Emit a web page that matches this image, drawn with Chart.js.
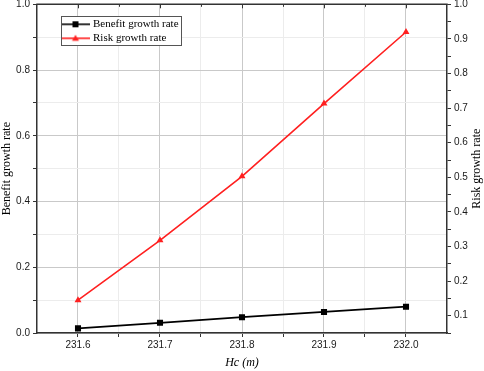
<!DOCTYPE html>
<html>
<head>
<meta charset="utf-8">
<script src="https://cdn.jsdelivr.net/npm/chart.js@4/dist/chart.umd.min.js"></script>
<style>
  html, body { margin: 0; padding: 0; background: #fff; }
  #wrap { width: 484px; height: 371px; }
</style>
</head>
<body>
<div id="wrap"><canvas id="chart-growth" width="484" height="371"></canvas></div>
<script>
// values
const hcValues = [231.6, 231.7, 231.8, 231.9, 232.0];
const benefitRate = [0.014, 0.031, 0.048, 0.064, 0.080];
const riskRate = [0.145, 0.318, 0.503, 0.713, 0.920];

const xTickLabels = ['231.6', '231.7', '231.8', '231.9', '232.0'];
const leftTickLabels = ['0.0', '0.2', '0.4', '0.6', '0.8', '1.0'];
const rightTickLabels = ['0.1', '0.2', '0.3', '0.4', '0.5', '0.6', '0.7', '0.8', '0.9', '1.0'];

const serif = 'Liberation Serif, Times New Roman, serif';
const sans = 'Liberation Sans, Arial, sans-serif';
const axisColor = '#333';

// major ticks from the labels, minor ticks halfway between them
function tickList(labels, withLeadingMinor) {
    const major = labels.map(t => parseFloat(t));
    const step = major[1] - major[0];
    const out = major.map((v, i) => ({ value: v, major: true, text: labels[i] }));
    major.forEach((v, i) => {
        if (i > 0) out.push({ value: v - step / 2, major: false, text: '' });
    });
    if (withLeadingMinor) out.push({ value: major[0] - step / 2, major: false, text: '' });
    return out.sort((a, b) => a.value - b.value);
}

function legendIcon(color, shape) {
    const c = document.createElement('canvas');
    c.width = 28; c.height = 10;
    const g = c.getContext('2d');
    g.strokeStyle = color; g.fillStyle = color; g.lineWidth = 1.6;
    g.beginPath(); g.moveTo(0, 5); g.lineTo(28, 5); g.stroke();
    if (shape === 'rect') {
        g.fillRect(11, 2, 6, 6);
    } else {
        g.beginPath(); g.moveTo(14, 1.5); g.lineTo(17.5, 7.5); g.lineTo(10.5, 7.5); g.closePath(); g.fill();
    }
    return c;
}
const legendIcons = [legendIcon('#000', 'rect'), legendIcon('#ff2020', 'triangle')];

const gridColor = c => (c.tick && c.tick.major ? '#c9c9c9' : '#ececec');
const tickText = (v, i, ticks) => ticks[i].text;

const extras = {
    id: 'extras',
    afterLayout(chart) {
        const lg = chart.legend, a = chart.chartArea;
        const w = lg.width, h = lg.height;
        lg.left = a.left + 23.5;
        lg.top = a.top + 11.5;
        lg.right = lg.left + w;
        lg.bottom = lg.top + h;
    },
    afterDatasetsDraw(chart) {
        const ctx = chart.ctx, lg = chart.legend;
        ctx.save();
        ctx.font = '11px ' + serif;
        const tw = Math.max(...chart.data.datasets.map(d => ctx.measureText(d.label).width));
        const x0 = Math.round(lg.left) + 0.5, y0 = Math.round(lg.top) + 0.5;
        const w = Math.round(3 + 24 + 5.5 + tw + 2), h = 29;
        ctx.fillStyle = '#fff';
        ctx.fillRect(x0, y0, w, h);
        ctx.strokeStyle = '#555';
        ctx.lineWidth = 1;
        ctx.strokeRect(x0, y0, w, h);
        ctx.restore();
        lg.draw();
    },
    afterDraw(chart) {
        const ctx = chart.ctx, a = chart.chartArea, xs = chart.scales.x;
        ctx.save();
        // top frame with small inward ticks
        ctx.strokeStyle = axisColor;
        ctx.lineWidth = 1.5;
        ctx.beginPath();
        ctx.moveTo(a.left - 0.75, a.top);
        ctx.lineTo(a.right + 0.75, a.top);
        ctx.stroke();
        ctx.lineWidth = 1;
        xs.ticks.forEach(t => {
            const px = Math.round(xs.getPixelForValue(t.value)) + 0.5;
            ctx.beginPath();
            ctx.moveTo(px, a.top);
            ctx.lineTo(px, a.top + (t.major ? 4 : 2.5));
            ctx.stroke();
        });
        // right axis title, read bottom to top
        ctx.fillStyle = '#000';
        ctx.font = '12px ' + serif;
        ctx.textAlign = 'center';
        ctx.textBaseline = 'middle';
        ctx.translate(chart.width - 7, (a.top + a.bottom) / 2);
        ctx.rotate(-Math.PI / 2);
        ctx.fillText('Risk growth rate', 0, 0);
        ctx.restore();
    }
};

const growthChart = new Chart(document.getElementById('chart-growth'), {
    type: 'line',
    data: {
        datasets: [{
            label: 'Benefit growth rate',
            data: hcValues.map((x, i) => ({ x, y: benefitRate[i] })),
            yAxisID: 'y',
            borderColor: '#000',
            backgroundColor: '#000',
            borderWidth: 1.8,
            pointStyle: 'rect',
            pointRadius: 4.3,
            pointBorderWidth: 0,
            tension: 0
        }, {
            label: 'Risk growth rate',
            data: hcValues.map((x, i) => ({ x, y: riskRate[i] })),
            yAxisID: 'y1',
            borderColor: '#ff2020',
            backgroundColor: '#ff2020',
            borderWidth: 1.6,
            pointStyle: 'triangle',
            pointRadius: 4,
            pointBorderWidth: 0,
            tension: 0
        }]
    },
    options: {
        responsive: false,
        animation: false,
        events: [],
        layout: { padding: { top: 4, left: 0, right: 0, bottom: 0 } },
        scales: {
            x: {
                type: 'linear',
                min: 231.55,
                max: 232.05,
                afterBuildTicks: s => { s.ticks = tickList(xTickLabels, false); },
                afterFit: s => { s.height = 38; s.paddingLeft = 0; s.paddingRight = 0; },
                ticks: { callback: tickText, autoSkip: false, maxRotation: 0, padding: 2,
                    color: '#1a1a1a', font: { family: sans, size: 10 } },
                grid: { color: gridColor, tickColor: axisColor, tickLength: 4, lineWidth: 1 },
                border: { color: axisColor, width: 1.5 },
                title: { display: true, text: 'Hc (m)', color: '#000', padding: { top: 0, bottom: 1 },
                    font: { family: serif, size: 12, style: 'italic' } }
            },
            y: {
                position: 'left',
                min: 0,
                max: 1,
                afterBuildTicks: s => { s.ticks = tickList(leftTickLabels, false); },
                afterFit: s => { s.width = 37; s.paddingTop = 0; s.paddingBottom = 0; },
                ticks: { callback: tickText, autoSkip: false, padding: 3,
                    color: '#1a1a1a', font: { family: sans, size: 10 } },
                grid: { color: gridColor, tickColor: axisColor, tickLength: 4, lineWidth: 1 },
                border: { color: axisColor, width: 1.5 },
                title: { display: true, text: 'Benefit growth rate', color: '#000', padding: { top: 0, bottom: 0 },
                    font: { family: serif, size: 12 } }
            },
            y1: {
                position: 'right',
                min: 0.05,
                max: 1,
                afterBuildTicks: s => { s.ticks = tickList(rightTickLabels, true); },
                afterFit: s => { s.width = 37; s.paddingTop = 0; s.paddingBottom = 0; },
                ticks: { callback: tickText, autoSkip: false, padding: 3,
                    color: '#1a1a1a', font: { family: sans, size: 10 } },
                grid: { drawOnChartArea: false, tickColor: axisColor, tickLength: 4 },
                border: { color: axisColor, width: 1.5 }
            }
        },
        plugins: {
            legend: {
                position: 'chartArea',
                align: 'start',
                labels: {
                    usePointStyle: true,
                    pointStyleWidth: 24,
                    padding: 3,
                    color: '#000',
                    font: { family: serif, size: 11 },
                    generateLabels(chart) {
                        const items = Chart.defaults.plugins.legend.labels.generateLabels(chart);
                        items.forEach((it, i) => { it.pointStyle = legendIcons[i]; });
                        return items;
                    }
                }
            },
            tooltip: { enabled: false }
        }
    },
    plugins: [extras]
});
</script>
</body>
</html>
